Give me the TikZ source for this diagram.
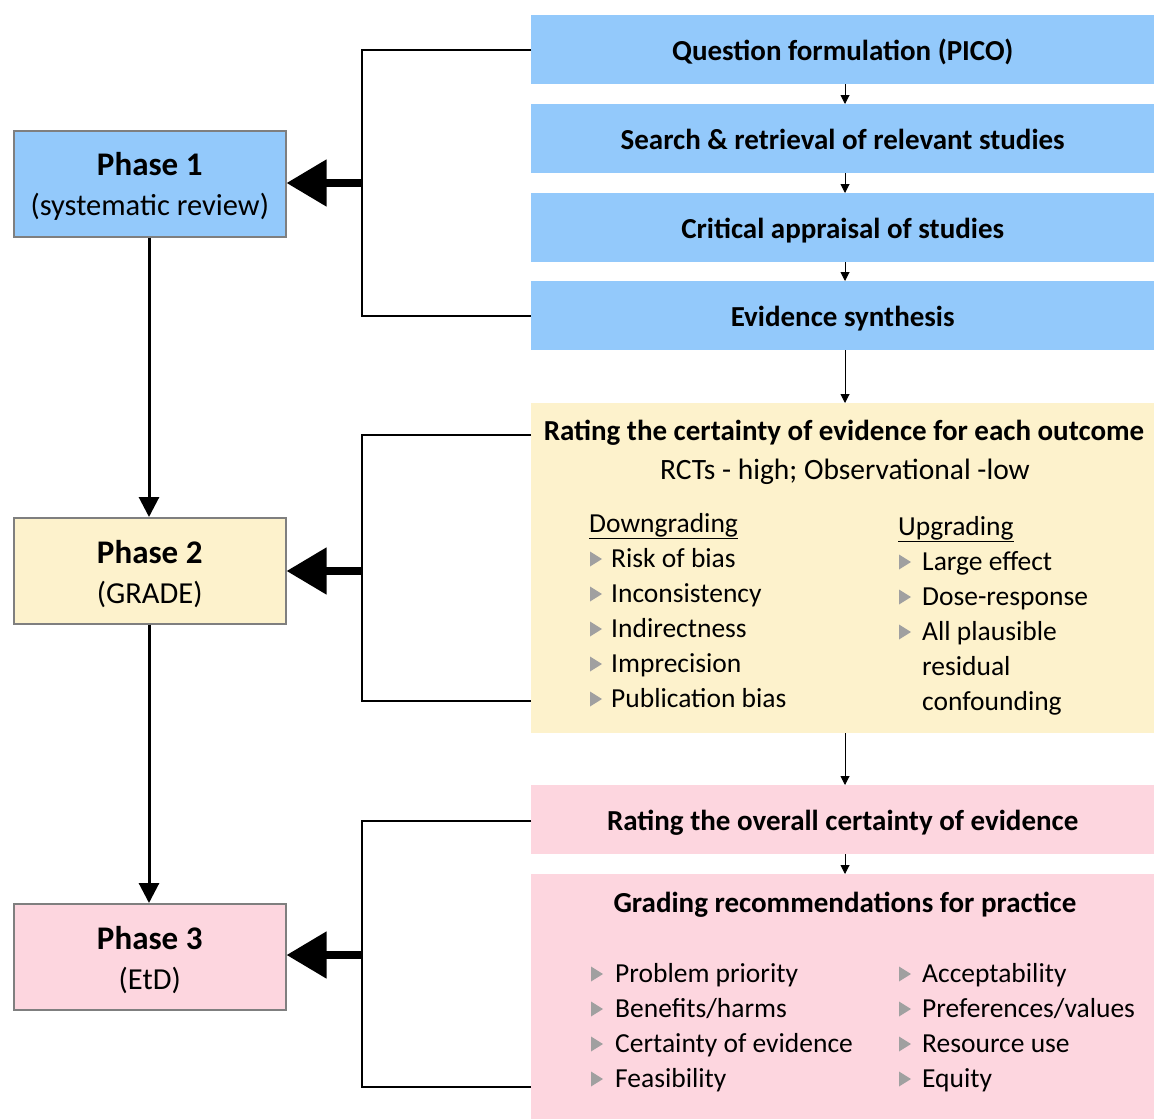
\documentclass[tikz,border=0pt]{standalone}
\usepackage{fontspec}
\setmainfont{Carlito}
\usetikzlibrary{arrows.meta}
\definecolor{stepblue}{HTML}{93C9FB}
\definecolor{gradeyellow}{HTML}{FDF2CC}
\definecolor{etdpink}{HTML}{FDD6DF}
\definecolor{bulletgray}{HTML}{A0A0A0}
\definecolor{framegray}{HTML}{7F7F7F}

\begin{document}
\begin{tikzpicture}[x=1pt,y=-1pt,
  rbox/.style={minimum width=623pt, minimum height=69pt, inner sep=0pt,
    anchor=north west, text height=26pt, text depth=4pt,
    font=\fontsize{29}{32}\selectfont\bfseries},
  phasebox/.style={draw=framegray, line width=1.5pt, minimum width=272pt,
    minimum height=106pt, inner sep=0pt, anchor=north west},
  phasetext/.style={inner sep=0pt, align=center, font=\fontsize{30.5}{40}\selectfont},
  item/.style={anchor=west, inner sep=0pt, text height=20pt, text depth=6pt,
    font=\fontsize{27.5}{30}\selectfont},
  stepflow/.style={line width=1pt, -{Triangle[width=9pt,length=9pt]}},
  phaseflow/.style={line width=3pt, -{Triangle[width=20pt,length=20pt]}},
  bracket/.style={line width=2pt},
  bigarrow/.style={line width=8pt, -{Triangle[width=45pt,length=40pt]}},
  bullet/.pic={\fill[bulletgray] (-6,-7.5) -- (6,0) -- (-6,7.5) -- cycle;}
]
\useasboundingbox (0,0) rectangle (1154,1119);

% Right column: steps of the process
\node[rbox, fill=stepblue] (q) at (531,15) {Question formulation (PICO)};
\node[rbox, fill=stepblue] (s) at (531,104) {Search \& retrieval of relevant studies};
\node[rbox, fill=stepblue] (c) at (531,193) {Critical appraisal of studies};
\node[rbox, fill=stepblue] (e) at (531,281) {Evidence synthesis};
\node[rbox, fill=gradeyellow, minimum height=330pt] (r) at (531,403) {};
\node[rbox, fill=etdpink] (o) at (531,785) {Rating the overall certainty of evidence};
\node[rbox, fill=etdpink, minimum height=245pt] (g) at (531,874) {};

% Certainty rating contents
\node[item, anchor=center, font=\fontsize{29}{32}\selectfont\bfseries] (rt) at (844,433)
  {Rating the certainty of evidence for each outcome};
\node[item, anchor=center, font=\fontsize{29.5}{32}\selectfont] (rs) at (845,472) {RCTs - high; Observational -low};
\node[item] (dh) at (589,525) {\underline{Downgrading}};
\node[item] (uh) at (898,528) {\underline{Upgrading}};
\foreach \t [count=\i] in {Risk of bias, Inconsistency, Indirectness, Imprecision, Publication bias} {
  \node[item] (d\i) at (611,560+35*\i-35) {\t};
  \pic at (596,559+35*\i-35) {bullet};
}
\foreach \t [count=\i] in {Large effect, Dose-response, All plausible, residual, confounding} {
  \node[item] (u\i) at (922,563+35*\i-35) {\t};
}
\foreach \i in {1,2,3} { \pic at (905,562+35*\i-35) {bullet}; }

% Recommendation contents
\node[item, anchor=center, font=\fontsize{29}{32}\selectfont\bfseries] (gt) at (845,905)
  {Grading recommendations for practice};
\foreach \t [count=\i] in {Problem priority, Benefits/harms, Certainty of evidence, Feasibility} {
  \node[item] (l\i) at (615,975+35*\i-35) {\t};
  \pic at (597,974+35*\i-35) {bullet};
}
\foreach \t [count=\i] in {Acceptability, Preferences/values, Resource use, Equity} {
  \node[item] (p\i) at (922,975+35*\i-35) {\t};
  \pic at (905,974+35*\i-35) {bullet};
}

% Flow between steps
\draw[stepflow] (q.south -| 845,0) -- (s.north -| 845,0);
\draw[stepflow] (s.south -| 845,0) -- (c.north -| 845,0);
\draw[stepflow] (c.south -| 845,0) -- (e.north -| 845,0);
\draw[stepflow] (e.south -| 845,0) -- (r.north -| 845,0);
\draw[stepflow] (r.south -| 845,0) -- (o.north -| 845,0);
\draw[stepflow] (o.south -| 845,0) -- (g.north -| 845,0);

% Left column: phases
\node[phasebox, fill=stepblue] (p1) at (13,130) {};
\node[phasebox, fill=gradeyellow] (p2) at (13,517) {};
\node[phasebox, fill=etdpink] (p3) at (13,903) {};
\node[phasetext] (p1t) at ([yshift=-3pt]p1.center)
  {\textbf{\fontsize{33}{36}\selectfont Phase 1}\\(systematic review)};
\node[phasetext] (p2t) at ([yshift=-3pt]p2.center)
  {\textbf{\fontsize{33}{36}\selectfont Phase 2}\\(GRADE)};
\node[phasetext] (p3t) at ([yshift=-3pt]p3.center)
  {\textbf{\fontsize{33}{36}\selectfont Phase 3}\\(EtD)};

\draw[phaseflow] (p1.south -| 149,0) -- (p2.north -| 149,0);
\draw[phaseflow] (p2.south -| 149,0) -- (p3.north -| 149,0);

% Brackets grouping the steps of each phase
\coordinate (b1t) at (362,50);  \coordinate (b1b) at (362,316);
\coordinate (b2t) at (362,435); \coordinate (b2b) at (362,701);
\coordinate (b3t) at (362,821); \coordinate (b3b) at (362,1087);
\coordinate (b1m) at (362,183); \coordinate (b2m) at (362,571); \coordinate (b3m) at (362,955);

\draw[bracket] (q.west |- b1t) -- (b1t) -- (b1b) -- (e.west |- b1b);
\draw[bracket] (r.west |- b2t) -- (b2t) -- (b2b) -- (r.west |- b2b);
\draw[bracket] (o.west |- b3t) -- (b3t) -- (b3b) -- (g.west |- b3b);

\draw[bigarrow] (b1m) -- (p1.east |- b1m);
\draw[bigarrow] (b2m) -- (p2.east |- b2m);
\draw[bigarrow] (b3m) -- (p3.east |- b3m);
\end{tikzpicture}
\end{document}
